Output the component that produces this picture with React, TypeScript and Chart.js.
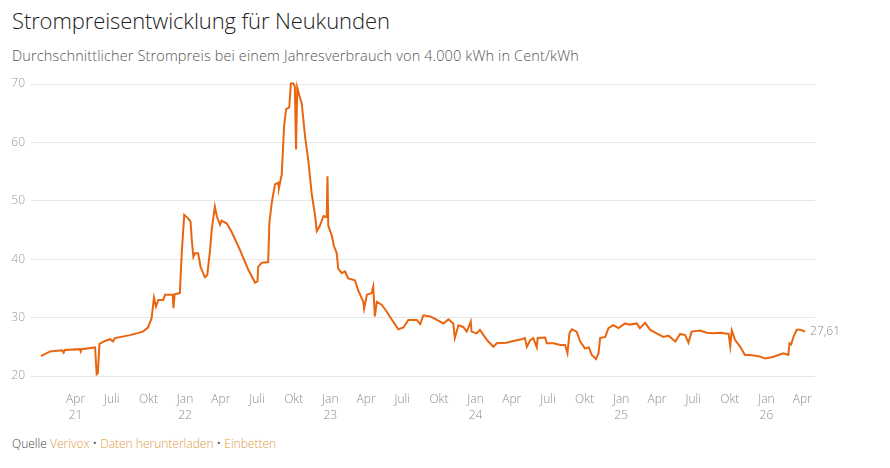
import React, { useEffect, useRef } from "react";
import { Chart, registerables } from "chart.js";

Chart.register(...registerables);

const DATES: string[] = [
  "2021-01-04","2021-01-27","2021-02-26","2021-03-02","2021-03-05","2021-04-12","2021-04-14","2021-04-16",
  "2021-05-20","2021-05-24","2021-05-27","2021-05-31","2021-06-14","2021-06-27","2021-07-04","2021-07-09",
  "2021-08-16","2021-09-17","2021-09-30","2021-10-09","2021-10-15","2021-10-20","2021-10-26","2021-11-07",
  "2021-11-12","2021-12-01","2021-12-03","2021-12-06","2021-12-19","2021-12-24","2021-12-30","2022-01-09",
  "2022-01-15","2022-01-18","2022-01-22","2022-01-26","2022-02-03","2022-02-09","2022-02-20","2022-02-26",
  "2022-03-05","2022-03-09","2022-03-17","2022-03-22","2022-03-30","2022-04-03","2022-04-16","2022-04-28",
  "2022-05-19","2022-06-09","2022-06-26","2022-07-02","2022-07-04","2022-07-13","2022-07-29","2022-08-01",
  "2022-08-07","2022-08-15","2022-08-23","2022-08-25","2022-09-01","2022-09-07","2022-09-12","2022-09-20",
  "2022-09-24","2022-09-30","2022-10-04","2022-10-07","2022-10-10","2022-10-17","2022-10-21","2022-10-30",
  "2022-11-07","2022-11-15","2022-11-24","2022-11-28","2022-12-05","2022-12-15","2022-12-23","2022-12-25",
  "2022-12-27","2023-01-05","2023-01-10","2023-01-17","2023-01-21","2023-01-30","2023-02-07","2023-02-15",
  "2023-03-04","2023-03-12","2023-03-25","2023-03-27","2023-04-03","2023-04-15","2023-04-19","2023-04-23",
  "2023-04-28","2023-05-10","2023-05-23","2023-06-08","2023-06-21","2023-07-04","2023-07-16","2023-08-06",
  "2023-08-15","2023-08-23","2023-09-09","2023-09-26","2023-10-12","2023-10-25","2023-11-06","2023-11-10",
  "2023-11-19","2023-12-01","2023-12-10","2023-12-20","2023-12-22","2024-01-04","2024-01-12","2024-01-21",
  "2024-02-02","2024-02-15","2024-02-23","2024-03-19","2024-04-05","2024-04-26","2024-05-04","2024-05-09",
  "2024-05-17","2024-05-25","2024-06-03","2024-06-05","2024-06-24","2024-06-28","2024-07-15","2024-08-01",
  "2024-08-13","2024-08-19","2024-08-24","2024-08-30","2024-09-11","2024-09-20","2024-10-02","2024-10-12",
  "2024-10-19","2024-10-30","2024-11-05","2024-11-09","2024-11-22","2024-11-30","2024-12-12","2024-12-25",
  "2025-01-11","2025-01-23","2025-02-09","2025-02-17","2025-03-02","2025-03-15","2025-03-31","2025-04-17",
  "2025-04-30","2025-05-17","2025-05-29","2025-06-11","2025-06-19","2025-06-27","2025-07-18","2025-08-04",
  "2025-08-21","2025-09-07","2025-09-28","2025-10-02","2025-10-06","2025-10-14","2025-10-27","2025-11-08",
  "2025-11-21","2025-12-12","2025-12-29","2026-01-19","2026-01-31","2026-02-13","2026-02-25","2026-02-28",
  "2026-03-04","2026-03-10","2026-03-18","2026-03-27","2026-04-08"
];

const PRICES: number[] = [
  23.4,24.2,24.4,24.0,24.45,24.6,24.2,24.6,
  24.9,20.3,20.5,25.5,26.0,26.3,25.9,26.5,
  27.0,27.6,28.3,29.9,33.4,31.9,33.0,33.0,
  33.9,33.9,31.6,34.0,34.2,41.3,47.6,47.0,
  46.4,43.3,40.4,41.0,41.0,38.7,36.9,37.3,
  41.6,45.0,49.0,47.3,45.9,46.6,46.1,44.7,
  41.6,38.2,36.0,36.2,38.7,39.4,39.5,46.2,
  49.7,52.8,53.1,52.2,54.5,62.8,65.7,66.0,
  70.1,70.1,69.6,58.8,69.4,67.6,66.8,60.8,
  56.8,51.4,47.4,44.8,45.6,47.4,47.2,54.2,
  45.7,44.0,42.3,41.1,38.4,37.6,37.9,36.7,
  36.4,34.7,32.7,31.5,33.9,34.2,35.3,30.2,
  32.7,32.2,31.0,29.3,28.0,28.3,29.6,29.6,
  28.9,30.4,30.2,29.6,29.0,29.7,29.0,26.5,
  28.7,28.4,27.6,29.3,27.6,27.3,27.9,27.0,
  25.9,25.0,25.6,25.7,26.0,26.3,26.5,25.0,
  26.1,26.5,24.9,26.5,26.6,25.6,25.6,25.3,
  25.3,23.9,27.3,28.0,27.6,25.9,24.7,24.9,
  23.6,22.9,23.9,26.5,26.7,28.2,28.7,28.2,
  29.0,28.8,29.0,28.2,29.1,27.9,27.3,26.7,
  26.9,25.9,27.2,27.0,25.7,27.6,27.8,27.4,
  27.3,27.4,27.2,25.1,27.8,26.2,25.0,23.6,
  23.6,23.4,23.0,23.3,23.6,23.9,23.6,25.6,
  25.4,26.7,27.9,27.9,27.61
];

const TICK_DATES: string[] = [
  "2021-04-01","2021-07-01","2021-10-01","2022-01-01","2022-04-01","2022-07-01","2022-10-01",
  "2023-01-01","2023-04-01","2023-07-01","2023-10-01","2024-01-01","2024-04-01","2024-07-01",
  "2024-10-01","2025-01-01","2025-04-01","2025-07-01","2025-10-01","2026-01-01","2026-04-01"
];

const TICK_LABELS: string[][] = [
  ["Apr","21"],["Juli"],["Okt"],["Jan","22"],["Apr"],["Juli"],["Okt"],
  ["Jan","23"],["Apr"],["Juli"],["Okt"],["Jan","24"],["Apr"],["Juli"],
  ["Okt"],["Jan","25"],["Apr"],["Juli"],["Okt"],["Jan","26"],["Apr"]
];

const Y_TICKS: number[] = [20, 30, 40, 50, 60, 70];

const LAST_LABEL = "27,61";

const BASE = Date.UTC(2021, 0, 1);
function dayOf(s: string): number {
  const [y, m, d] = s.split("-").map(Number);
  return (Date.UTC(y, m - 1, d) - BASE) / 86400000;
}

const FONT = "'Open Sans', 'Noto Sans', sans-serif";

export default function App() {
  const ref = useRef<HTMLCanvasElement | null>(null);

  useEffect(() => {
    if (!ref.current) return;
    const points = DATES.map((d, i) => ({ x: dayOf(d), y: PRICES[i] }));
    const tickVals = TICK_DATES.map(dayOf);

    const endLabel = {
      id: "endLabel",
      afterDatasetsDraw(chart: any) {
        const meta = chart.getDatasetMeta(0);
        const last = meta.data[meta.data.length - 1];
        if (!last) return;
        const ctx = chart.ctx;
        ctx.save();
        ctx.font = `300 12px ${FONT}`;
        ctx.fillStyle = "#8a8a8a";
        ctx.textAlign = "left";
        ctx.textBaseline = "middle";
        ctx.fillText(LAST_LABEL, last.x + 5, last.y);
        ctx.restore();
      },
    };

    const chart = new Chart(ref.current, {
      type: "line",
      data: {
        datasets: [
          {
            data: points,
            borderColor: "#e9650f",
            borderWidth: 2,
            pointRadius: 0,
            tension: 0,
            fill: false,
            clip: false as any,
          },
        ],
      },
      options: {
        responsive: false,
        animation: false,
        parsing: false as any,
        layout: { padding: { left: 0, right: 75, top: 14, bottom: 0 } },
        plugins: { legend: { display: false }, tooltip: { enabled: false } },
        scales: {
          x: {
            type: "linear",
            min: -22,
            max: 1948,
            grid: { display: false },
            border: { display: false },
            afterBuildTicks: (scale: any) => {
              scale.ticks = tickVals.map((v) => ({ value: v }));
            },
            afterFit: (scale: any) => {
              scale.height = 49;
            },
            ticks: {
              autoSkip: false,
              maxRotation: 0,
              minRotation: 0,
              padding: 7,
              color: "#8c8c8c",
              font: { family: FONT, size: 12, lineHeight: 1.35, weight: 300 as any },
              callback: (_v: any, i: number) => TICK_LABELS[i],
            },
          },
          y: {
            type: "linear",
            min: 20,
            max: 70,
            afterBuildTicks: (scale: any) => {
              scale.ticks = Y_TICKS.map((v) => ({ value: v }));
            },
            afterFit: (scale: any) => {
              scale.width = 31;
            },
            grid: { color: "#e6e6e6", drawTicks: false, lineWidth: 1 },
            border: { display: false },
            ticks: {
              padding: 6,
              color: "#9a9a9a",
              font: { family: FONT, size: 12, weight: 300 as any },
            },
          },
        },
      },
      plugins: [endLabel],
    });
    return () => chart.destroy();
  }, []);

  return (
    <div
      style={{
        position: "fixed",
        left: 0,
        top: 0,
        width: 890,
        height: 468,
        background: "#fff",
        fontFamily: FONT,
      }}
    >
      <div
        style={{
          position: "absolute",
          left: 12,
          top: 5,
          fontSize: 22,
          fontWeight: 300,
          color: "#222",
          whiteSpace: "nowrap",
          letterSpacing: -0.1,
        }}
      >
        Strompreisentwicklung für Neukunden
      </div>
      <div
        style={{
          position: "absolute",
          left: 12,
          top: 46,
          fontSize: 14.5,
          fontWeight: 300,
          color: "#555",
          whiteSpace: "nowrap",
          letterSpacing: 0.13,
        }}
      >
        Durchschnittlicher Strompreis bei einem Jahresverbrauch von 4.000 kWh in Cent/kWh
      </div>
      <canvas
        ref={ref}
        width={890}
        height={355}
        style={{ position: "absolute", left: 0, top: 70, width: 890, height: 355 }}
      />
      <div
        style={{
          position: "absolute",
          left: 12,
          top: 435,
          fontSize: 12,
          fontWeight: 300,
          color: "#444",
          whiteSpace: "nowrap",
          letterSpacing: 0,
        }}
      >
        Quelle <span style={{ color: "#dc9a3e" }}>Verivox</span> •{" "}
        <span style={{ color: "#dc9a3e" }}>Daten herunterladen</span> •{" "}
        <span style={{ color: "#dc9a3e" }}>Einbetten</span>
      </div>
    </div>
  );
}
